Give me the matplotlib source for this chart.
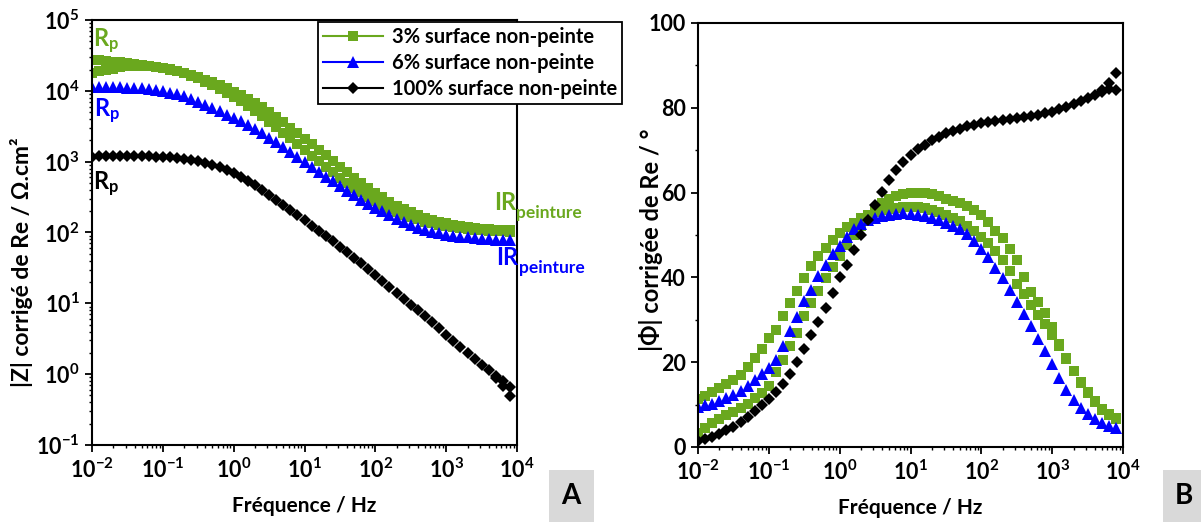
import matplotlib
matplotlib.use("Agg")
import matplotlib.pyplot as plt
import numpy as np
from matplotlib.lines import Line2D
from matplotlib.patches import Rectangle
from matplotlib.ticker import FuncFormatter, LogLocator, MultipleLocator, NullFormatter

plt.rcParams['font.family'] = ['Lato', 'DejaVu Sans']
plt.rcParams['font.weight'] = 'bold'
plt.rcParams['mathtext.fontset'] = 'custom'
plt.rcParams['mathtext.rm'] = 'Lato:bold'
plt.rcParams['mathtext.it'] = 'Lato:bold'
plt.rcParams['mathtext.bf'] = 'Lato:bold'

# frequency grid, 10 points per decade (Hz)
freq = [0.01, 0.0126, 0.0158, 0.02, 0.0251, 0.0316, 0.0398, 0.0501, 0.0631, 0.0794,
        0.1, 0.126, 0.158, 0.2, 0.251, 0.316, 0.398, 0.501, 0.631, 0.794,
        1, 1.26, 1.58, 2, 2.51, 3.16, 3.98, 5.01, 6.31, 7.94,
        10, 12.6, 15.8, 20, 25.1, 31.6, 39.8, 50.1, 63.1, 79.4,
        100, 126, 158, 200, 251, 316, 398, 501, 631, 794,
        1000, 1260, 1580, 2000, 2510, 3160, 3980, 5010, 6310, 7940]
freq_tail = [5010, 6310, 7940]

# log10 |Z| (ohm.cm2)
logz_3a = [4.435, 4.43, 4.42, 4.41, 4.40, 4.39, 4.375, 4.365, 4.35, 4.335,
           4.32, 4.30, 4.28, 4.25, 4.22, 4.19, 4.155, 4.12, 4.08, 4.04,
           3.99, 3.94, 3.89, 3.835, 3.77, 3.70, 3.63, 3.555, 3.48, 3.40,
           3.325, 3.25, 3.17, 3.09, 3.01, 2.93, 2.85, 2.775, 2.70, 2.63,
           2.56, 2.495, 2.435, 2.38, 2.33, 2.285, 2.245, 2.21, 2.18, 2.155,
           2.13, 2.11, 2.09, 2.075, 2.06, 2.05, 2.045, 2.04, 2.035, 2.03]
logz_3b = [4.25, 4.275, 4.295, 4.315, 4.33, 4.345, 4.35, 4.355, 4.35, 4.34,
           4.325, 4.305, 4.28, 4.25, 4.215, 4.175, 4.13, 4.08, 4.03, 3.975,
           3.915, 3.85, 3.78, 3.71, 3.64, 3.565, 3.49, 3.41, 3.33, 3.25,
           3.165, 3.085, 3.005, 2.925, 2.85, 2.775, 2.70, 2.63, 2.565, 2.50,
           2.44, 2.385, 2.335, 2.29, 2.25, 2.215, 2.185, 2.155, 2.13, 2.11,
           2.09, 2.075, 2.06, 2.05, 2.04, 2.03, 2.025, 2.02, 2.015, 2.01]
logz_6 = [4.06, 4.06, 4.055, 4.05, 4.05, 4.045, 4.04, 4.035, 4.025, 4.01,
          3.995, 3.975, 3.95, 3.92, 3.885, 3.845, 3.80, 3.755, 3.71, 3.66,
          3.615, 3.57, 3.52, 3.46, 3.40, 3.34, 3.28, 3.21, 3.14, 3.07,
          3.00, 2.93, 2.86, 2.79, 2.72, 2.65, 2.59, 2.53, 2.46, 2.40,
          2.35, 2.30, 2.24, 2.19, 2.145, 2.10, 2.07, 2.04, 2.01, 1.99,
          1.97, 1.955, 1.94, 1.93, 1.92, 1.91, 1.905, 1.90, 1.895, 1.89]
logz_100 = [3.07, 3.075, 3.075, 3.08, 3.08, 3.08, 3.08, 3.08, 3.075, 3.07,
            3.065, 3.06, 3.05, 3.04, 3.025, 3.005, 2.98, 2.95, 2.92, 2.88,
            2.835, 2.785, 2.73, 2.665, 2.60, 2.53, 2.46, 2.39, 2.315, 2.245,
            2.17, 2.095, 2.025, 1.955, 1.875, 1.80, 1.72, 1.645, 1.565, 1.48,
            1.395, 1.31, 1.225, 1.14, 1.06, 0.98, 0.90, 0.82, 0.735, 0.645,
            0.56, 0.47, 0.385, 0.30, 0.215, 0.135, 0.055, -0.02, -0.10, -0.18]
logz_100_tail = [-0.05, -0.17, -0.31]

# |phase| (degrees)
phi_3a = [11.4, 12.1, 13.0, 13.9, 14.8, 15.8, 16.9, 18.8, 20.9, 23.2,
          25.6, 27.6, 31.0, 34.0, 36.8, 39.8, 42.8, 45.0, 47.0, 48.8,
          50.4, 51.8, 52.9, 53.9, 54.8, 55.4, 55.9, 56.2, 56.4, 56.6,
          56.7, 56.6, 56.4, 56.0, 55.4, 54.7, 54.0, 53.2, 52.2, 51.0,
          49.6, 48.1, 46.3, 44.0, 41.4, 38.5, 36.0, 33.6, 31.2, 29.0,
          26.5, 23.8, 20.8, 18.0, 15.4, 13.0, 10.9, 9.0, 7.6, 6.5]
phi_3b = [3.4, 4.5, 5.6, 6.6, 7.6, 8.3, 9.1, 10.2, 11.5, 12.8,
          14.3, 17.6, 20.4, 23.7, 26.8, 30.8, 34.0, 36.7, 39.8, 42.5,
          45.0, 47.6, 50.0, 52.2, 54.2, 56.0, 57.5, 58.6, 59.3, 59.7,
          59.9, 60.0, 60.0, 59.7, 59.2, 58.6, 58.0, 57.6, 56.8, 55.8,
          54.7, 53.1, 51.0, 49.2, 46.8, 44.2, 40.2, 36.5, 34.3, 31.5,
          28.2, 24.4, 21.0, 17.9, 15.2, 12.8, 10.6, 8.8, 7.7, 6.9]
phi_6 = [9.4, 9.8, 10.2, 10.8, 11.5, 12.2, 13.1, 14.3, 15.8, 17.3,
         18.6, 20.6, 23.9, 27.3, 30.6, 34.4, 37.0, 40.3, 43.0, 45.5,
         47.5, 49.6, 51.3, 52.6, 53.5, 54.1, 54.5, 54.8, 55.0, 55.1,
         55.0, 54.8, 54.5, 54.1, 53.5, 52.9, 52.2, 51.4, 50.2, 48.6,
         46.8, 44.7, 42.3, 39.8, 37.0, 34.2, 31.3, 28.5, 25.5, 22.7,
         19.6, 16.2, 13.4, 11.1, 9.2, 7.7, 6.5, 5.6, 4.9, 4.5]
phi_100 = [1.3, 1.8, 2.4, 3.1, 3.9, 4.8, 5.9, 7.1, 8.4, 9.8,
           11.3, 13.0, 14.9, 17.1, 20.0, 23.0, 26.3, 29.5, 32.8, 36.3,
           40.0, 43.0, 46.5, 50.0, 53.5, 57.0, 60.2, 63.0, 65.3, 67.2,
           68.9, 70.2, 71.3, 72.3, 73.2, 74.0, 74.6, 75.1, 75.6, 76.0,
           76.3, 76.6, 76.9, 77.1, 77.3, 77.5, 77.8, 78.0, 78.3, 78.7,
           79.1, 79.6, 80.2, 80.8, 81.5, 82.2, 83.0, 83.7, 84.5, 84.2]
phi_100_tail = [84.3, 85.8, 88.1]

labels = ["3% surface non-peinte", "6% surface non-peinte", "100% surface non-peinte"]
green = "#6AA81E"
blue = "#0000FF"
black = "#000000"

fig = plt.figure(figsize=(12.01, 5.22), dpi=100)
ax1 = fig.add_axes([0.0766, 0.1475, 0.3539, 0.8142])
ax2 = fig.add_axes([0.5812, 0.1437, 0.3539, 0.8123])

sq = dict(marker="s", ms=7, color=green, linestyle="none", markeredgewidth=0)
tri = dict(marker="^", ms=8, color=blue, linestyle="none", markeredgewidth=0)
dia = dict(marker="D", ms=6.5, color=black, linestyle="none", markeredgewidth=0)

ax1.plot(freq, 10 ** np.array(logz_3a), **sq)
ax1.plot(freq, 10 ** np.array(logz_3b), **sq)
ax1.plot(freq, 10 ** np.array(logz_6), **tri)
ax1.plot(freq, 10 ** np.array(logz_100), **dia)
ax1.plot(freq_tail, 10 ** np.array(logz_100_tail), **dia)

ax2.plot(freq, phi_3a, **sq)
ax2.plot(freq, phi_3b, **sq)
ax2.plot(freq, phi_6, **tri)
ax2.plot(freq, phi_100, **dia)
ax2.plot(freq_tail, phi_100_tail, **dia)

def pow_fmt(v, pos):
    e = int(round(np.log10(v)))
    return r"$\mathrm{10^{%d}}$" % e

for ax in (ax1, ax2):
    ax.set_xscale("log")
    ax.set_xlim(1e-2, 1e4)
    ax.xaxis.set_major_locator(LogLocator(base=10, numticks=10))
    ax.xaxis.set_minor_locator(LogLocator(base=10, subs=np.arange(2, 10), numticks=20))
    ax.xaxis.set_major_formatter(FuncFormatter(pow_fmt))
    ax.xaxis.set_minor_formatter(NullFormatter())
    for s in ax.spines.values():
        s.set_linewidth(1.5)
    ax.tick_params(which="major", direction="out", length=5, width=1.3, labelsize=15.5, pad=4)
    ax.tick_params(which="minor", direction="out", length=2.5, width=1.0)
    ax.set_xlabel("Fréquence / Hz", fontsize=15, fontweight="bold", labelpad=10)

ax1.set_yscale("log")
ax1.set_ylim(1e-1, 1e5)
ax1.yaxis.set_major_locator(LogLocator(base=10, numticks=10))
ax1.yaxis.set_minor_locator(LogLocator(base=10, subs=np.arange(2, 10), numticks=20))
ax1.yaxis.set_major_formatter(FuncFormatter(pow_fmt))
ax1.yaxis.set_minor_formatter(NullFormatter())

ax2.set_ylim(0, 100)
ax2.yaxis.set_major_locator(MultipleLocator(20))
ax2.yaxis.set_minor_locator(MultipleLocator(10))

fig.text(22 / 1201, 1 - 262 / 522, "|Z| corrigé de Re / Ω.cm²", rotation=90,
         ha="center", va="center", fontsize=16.5, fontweight="bold")
fig.text(651 / 1201, 1 - 240 / 522, "|Φ| corrigée de Re / °", rotation=90,
         ha="center", va="center", fontsize=17, fontweight="bold")

# annotations on |Z| plot
ax1.text(0.0105, 10 ** 4.70, r"R$_\mathrm{p}$", color=green, fontsize=17, va="center")
ax1.text(0.0108, 10 ** 3.71, r"R$_\mathrm{p}$", color=blue, fontsize=17, va="center")
ax1.text(0.0105, 10 ** 2.68, r"R$_\mathrm{p}$", color=black, fontsize=17, va="center")

def ir_label(x_ir, y_ir, color):
    t = ax1.text(x_ir, y_ir, "IR", color=color, fontsize=17, va="center", clip_on=False)
    ax1.annotate("peinture", xy=(1, 0), xycoords=t, xytext=(0, -5), textcoords="offset points",
                 color=color, fontsize=12.5, ha="left", va="bottom", annotation_clip=False)

ir_label(10 ** 3.68, 10 ** 2.42, green)
ir_label(10 ** 3.71, 10 ** 1.64, blue)

handles = [Line2D([], [], color=green, marker="s", ms=7, mew=0, lw=1.5),
           Line2D([], [], color=blue, marker="^", ms=8, mew=0, lw=1.5),
           Line2D([], [], color=black, marker="D", ms=6, mew=0, lw=1.5)]
leg = fig.legend(handles, labels, loc="upper left", bbox_to_anchor=(318 / 1201, 1 - 22 / 522),
                 fancybox=False, framealpha=1, edgecolor="black", fontsize=14.5,
                 handlelength=3.0, borderpad=0.25, labelspacing=0.3, handletextpad=0.4,
                 borderaxespad=0)
leg.get_frame().set_linewidth(1.3)

# panel letters
fig.add_artist(Rectangle((549 / 1201, 0), 45 / 1201, 52 / 522, transform=fig.transFigure,
                         facecolor="#D9D9D9", edgecolor="none"))
fig.text(571 / 1201, 26 / 522, "A", ha="center", va="center", fontsize=20, fontweight="bold")
fig.add_artist(Rectangle((1163 / 1201, 0), 38 / 1201, 52 / 522, transform=fig.transFigure,
                         facecolor="#D9D9D9", edgecolor="none"))
fig.text(1184 / 1201, 26 / 522, "B", ha="center", va="center", fontsize=20, fontweight="bold")

fig.savefig("out.png", dpi=100)
